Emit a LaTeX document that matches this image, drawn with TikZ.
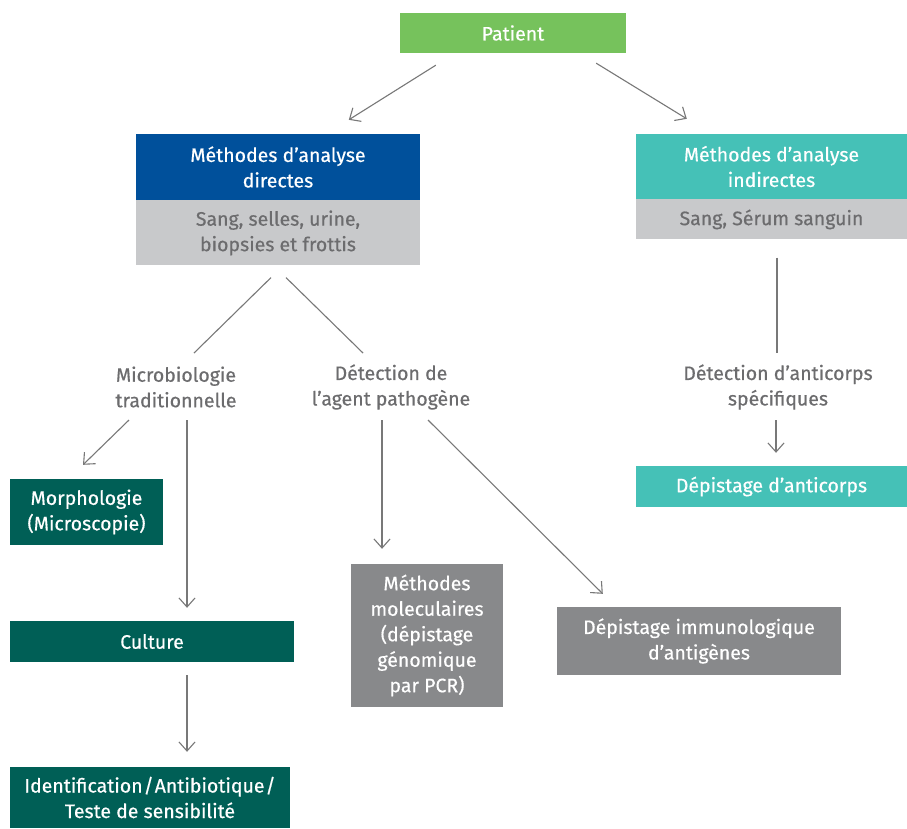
\documentclass[tikz,border=0pt]{standalone}
\usepackage{fontspec}
\setmainfont{Fira Sans}[FakeBold=0.5]
\usetikzlibrary{positioning,arrows.meta}

\definecolor{patgreen}{RGB}{118,194,92}
\definecolor{dirblue}{RGB}{0,80,155}
\definecolor{indteal}{RGB}{69,193,183}
\definecolor{samplegray}{RGB}{200,201,203}
\definecolor{darkgreen}{RGB}{0,95,86}
\definecolor{midgray}{RGB}{136,137,139}
\definecolor{linegray}{RGB}{120,120,120}
\definecolor{textgray}{RGB}{108,108,110}

\tikzstyle{box} = [rectangle, inner sep=0pt, align=center, text=white, font=\fontsize{19.5}{25.5}\selectfont]
\tikzstyle{subbox} = [box, fill=samplegray, text=textgray]
\tikzstyle{freetext} = [inner sep=0pt, align=center, text=textgray, font=\fontsize{19.5}{25.5}\selectfont]
\tikzstyle{link} = [draw, linegray, line width=1.1pt]
\tikzstyle{line} = [link, -{Straight Barb[length=9pt, width=16pt, line width=1.1pt]}]

\begin{document}
\begin{tikzpicture}[x=1pt, y=-1pt]
  \useasboundingbox[fill=white] (0,0) rectangle (907,828);

  \node[box, fill=patgreen, minimum width=226pt, minimum height=40pt] (patient) at (513,33) {Patient};

  \node[box, fill=dirblue, minimum width=284pt, minimum height=66pt] (directes) at (278,167) {Méthodes d’analyse\\directes};
  \node[subbox, below=0pt of directes, minimum width=284pt, minimum height=65pt] (dirsample) {Sang, selles, urine,\\biopsies et frottis};

  \node[box, fill=indteal, minimum width=271pt, minimum height=65pt] (indirectes) at (771.5,166.5) {Méthodes d’analyse\\indirectes};
  \node[subbox, below=0pt of indirectes, minimum width=271pt, minimum height=40pt] (indsample) {Sang, Sérum sanguin};

  \node[freetext] (microbio) at (176,387) {Microbiologie\\traditionnelle};
  \node[freetext] (detection) at (391,387) {Détection de\\l’agent pathogène};
  \node[freetext] (antic) at (778,387) {Détection d’anticorps\\spécifiques};

  \node[box, fill=darkgreen, minimum width=153pt, minimum height=66pt] (morpho) at (86.5,512) {Morphologie\\(Microscopie)};
  \node[box, fill=darkgreen, minimum width=284pt, minimum height=41pt] (culture) at (152,641.5) {Culture};
  \node[box, fill=darkgreen, minimum width=280pt, minimum height=61pt] (ident) at (150,797.5) {Identification\kern1pt/\kern1ptAntibiotique\kern1pt/\\Teste de sensibilité};

  \node[box, fill=midgray, minimum width=152pt, minimum height=143pt] (molec) at (427,635.5) {Méthodes\\moleculaires\\(dépistage\\génomique\\par PCR)};
  \node[box, fill=midgray, minimum width=284pt, minimum height=68pt] (immuno) at (699,641) {Dépistage immunologique\\d’antigènes};

  \node[box, fill=indteal, minimum width=271pt, minimum height=41pt] (depistage) at (771.5,486.5) {Dépistage d’anticorps};

  \path[line] ([shift={(36,12)}]patient.south west) -- ([shift={(213,-14)}]directes.north west);
  \path[line] ([shift={(-30,10)}]patient.south east) -- ([shift={(51,-15)}]indirectes.north west);

  \path[link] ([shift={(-7,12)}]dirsample.south) -- ([shift={(18,-34)}]microbio.center);
  \path[link] ([shift={(8,12)}]dirsample.south) -- ([shift={(-28,-34)}]detection.center);

  \path[line] ([shift={(-47,33)}]microbio.center) -- ([shift={(-3.5,-14)}]morpho.north);
  \path[line] ([shift={(11,33)}]microbio.center) -- ([shift={(35,-13)}]culture.north);
  \path[line] ([shift={(35,13)}]culture.south) -- ([shift={(37,-15)}]ident.north);

  \path[line] ([shift={(-9,33)}]detection.center) -- ([shift={(-45,-15)}]molec.north);
  \path[line] ([shift={(37,33)}]detection.center) -- ([shift={(46,-13)}]immuno.north west);

  \path[link] ([shift={(5.5,18)}]indsample.south) -- ([shift={(-1,-34)}]antic.center);
  \path[line] ([shift={(-2,33)}]antic.center) -- ([shift={(4.5,-13)}]depistage.north);

\end{tikzpicture}
\end{document}
